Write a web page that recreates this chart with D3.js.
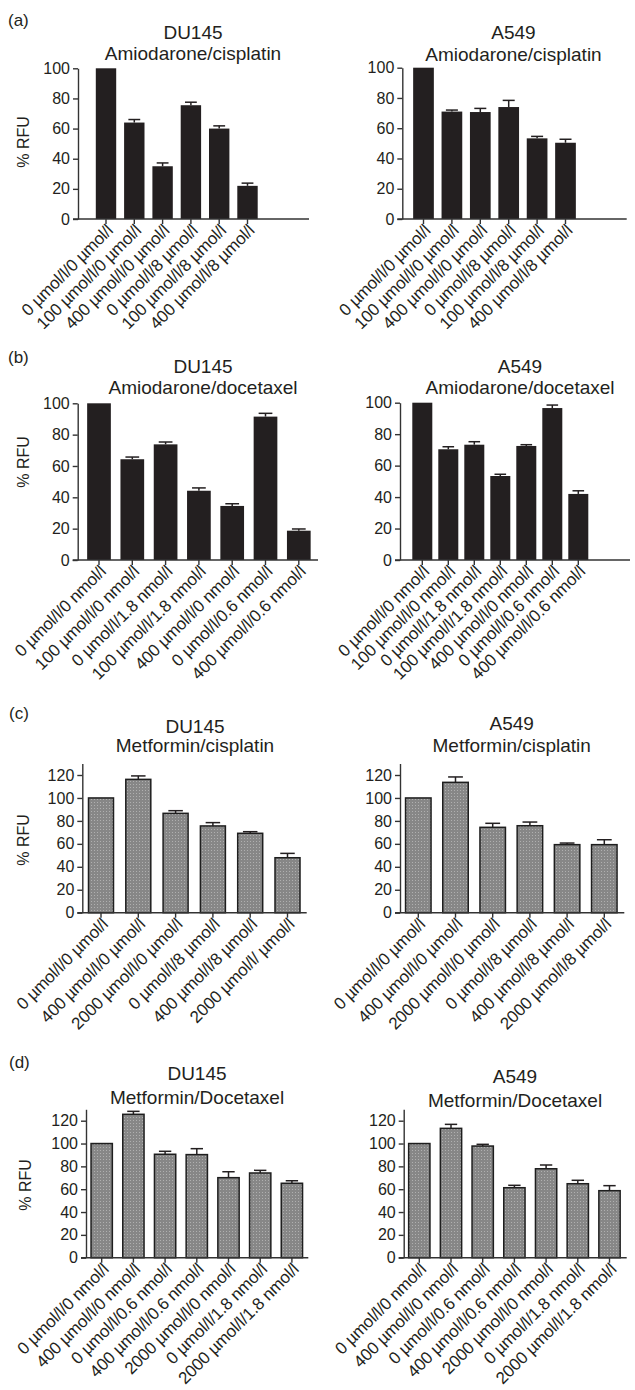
<!DOCTYPE html>
<html>
<head>
<meta charset="utf-8">
<script src="https://cdn.jsdelivr.net/npm/d3@7"></script>
<style>
html,body{margin:0;padding:0;background:#fff;}
svg{display:block;font-family:"Liberation Sans",Arial,Helvetica,sans-serif;}
</style>
</head>
<body>
<svg id="chart" width="635" height="1390"></svg>
<script>
// ---------- DATA ----------
const labelsA = ["0 µmol/l/0 µmol/l","100 µmol/l/0 µmol/l","400 µmol/l/0 µmol/l","0 µmol/l/8 µmol/l","100 µmol/l/8 µmol/l","400 µmol/l/8 µmol/l"];
const du145A = [100, 64, 35, 75.5, 60, 22];
const du145AErr = [0, 2, 2.2, 2, 1.8, 1.8];
const a549A = [100, 71, 70.7, 74, 53.3, 50.4];
const a549AErr = [0, 1, 2.4, 4.4, 1.3, 2.3];

const labelsB = ["0 µmol/l/0 nmol/l","100 µmol/l/0 nmol/l","0 µmol/l/1.8 nmol/l","100 µmol/l/1.8 nmol/l","400 µmol/l/0 nmol/l","0 µmol/l/0.6 nmol/l","400 µmol/l/0.6 nmol/l"];
const du145B = [100, 64.3, 73.8, 44.2, 34.5, 91.5, 18.7];
const du145BErr = [0, 1.4, 1.5, 1.8, 1.4, 2.1, 1.1];
const a549B = [100, 70.4, 73.3, 53.4, 72.5, 96.6, 42];
const a549BErr = [0, 1.6, 1.9, 1.1, 0.8, 1.9, 2];

const labelsCdu = ["0 µmol/l/0 µmol/l","400 µmol/l/0 µmol/l","2000 µmol/l/0 µmol/l","0 µmol/l/8 µmol/l","400 µmol/l/8 µmol/l","2000 µmol/l/ µmol/l"];
const labelsCa = ["0 µmol/l/0 µmol/l","400 µmol/l/0 µmol/l","2000 µmol/l/0 µmol/l","0 µmol/l/8 µmol/l","400 µmol/l/8 µmol/l","2000 µmol/l/8 µmol/l"];
const du145C = [100, 116.2, 86.6, 75.6, 69.2, 47.9];
const du145CErr = [0, 3, 2.3, 2.9, 1.4, 3.8];
const a549C = [100, 113.6, 74.4, 75.8, 59.3, 59.3];
const a549CErr = [0, 4.7, 3.5, 3.2, 1.4, 4.3];

const labelsD = ["0 µmol/l/0 nmol/l","400 µmol/l/0 nmol/l","0 µmol/l/0.6 nmol/l","400 µmol/l/0.6 nmol/l","2000 µmol/l/0 nmol/l","0 µmol/l/1.8 nmol/l","2000 µmol/l/1.8 nmol/l"];
const du145D = [100, 125.6, 90.6, 90.3, 70.1, 74.2, 65.2];
const du145DErr = [0, 2.6, 2.6, 5.2, 5.2, 2.3, 2.2];
const a549D = [100, 113.3, 97.8, 61.3, 77.9, 64.8, 58.7];
const a549DErr = [0, 3.5, 1.5, 2.1, 3.3, 3, 4.4];

const ticksAB = [0, 20, 40, 60, 80, 100];
const ticksCD = [0, 20, 40, 60, 80, 100, 120];

const panelLetters = ["(a)", "(b)", "(c)", "(d)"];
const cellLines = ["DU145", "A549"];
const treatments = ["Amiodarone/cisplatin", "Amiodarone/docetaxel", "Metformin/cisplatin", "Metformin/Docetaxel"];

// ---------- LAYOUT ----------
const INK = "#231f20";
const AX = "#333";
const svg = d3.select("#chart");
const defs = svg.append("defs");
const pat = defs.append("pattern").attr("id","stip").attr("width",3).attr("height",3).attr("patternUnits","userSpaceOnUse");
pat.append("rect").attr("width",3).attr("height",3).attr("fill","#878787");
pat.append("rect").attr("x",1).attr("y",1).attr("width",1).attr("height",1).attr("fill","#b0b0b0");

const charts = [
  {panel:0, cell:0, labels:labelsA, vals:du145A, errs:du145AErr, ticks:ticksAB, yMax:100,
   x0:78, y0:219, yRef:68.3, refVal:100, xEnd:309, first:106, step:28.3, barW:20.4,
   tx:193, t1:38.5, t2:60, ylx:23, yly:142, dark:true},
  {panel:0, cell:1, labels:labelsA, vals:a549A, errs:a549AErr, ticks:ticksAB, yMax:100,
   x0:402.3, y0:219, yRef:67.7, refVal:100, xEnd:626.7, first:423.5, step:28.4, barW:20.7,
   tx:513.5, t1:39, t2:60.7, dark:true},
  {panel:1, cell:0, labels:labelsB, vals:du145B, errs:du145BErr, ticks:ticksAB, yMax:100,
   x0:77.7, y0:560, yRef:403.3, refVal:100, xEnd:318, first:99, step:33.3, barW:23.7,
   tx:203, t1:373, t2:393.5, ylx:23, yly:462, dark:true},
  {panel:1, cell:1, labels:labelsB, vals:a549B, errs:a549BErr, ticks:ticksAB, yMax:100,
   x0:400, y0:560, yRef:402.7, refVal:100, xEnd:630, first:422.3, step:26, barW:20,
   tx:520, t1:372.7, t2:393.5, dark:true},
  {panel:2, cell:0, labels:labelsCdu, vals:du145C, errs:du145CErr, ticks:ticksCD, yMax:130,
   x0:82.3, y0:912.7, yRef:775, refVal:120, xEnd:306.7, first:101, step:37.3, barW:25,
   tx:195, t1:732.5, t2:752, ylx:23, yly:840, dark:false},
  {panel:2, cell:1, labels:labelsCa, vals:a549C, errs:a549CErr, ticks:ticksCD, yMax:130,
   x0:400, y0:912.7, yRef:775, refVal:120, xEnd:624.3, first:418.3, step:37.2, barW:25.5,
   tx:511.7, t1:730, t2:751.5, dark:false},
  {panel:3, cell:0, labels:labelsD, vals:du145D, errs:du145DErr, ticks:ticksCD, yMax:130,
   x0:86, y0:1257.7, yRef:1120.7, refVal:120, xEnd:308.3, first:101.7, step:31.7, barW:21.3,
   tx:197, t1:1080, t2:1104, ylx:25, yly:1185, dark:false},
  {panel:3, cell:1, labels:labelsD, vals:a549D, errs:a549DErr, ticks:ticksCD, yMax:130,
   x0:403.7, y0:1257.7, yRef:1120.7, refVal:120, xEnd:626.7, first:419.3, step:31.7, barW:21.3,
   tx:515, t1:1083, t2:1106.5, dark:false}
];

const letterPos = [[8,26],[8,363],[9,719],[9,1068]];
panelLetters.forEach((t,i)=>{
  svg.append("text").attr("x",letterPos[i][0]).attr("y",letterPos[i][1])
    .attr("font-size",17).attr("fill",INK).text(t);
});

charts.forEach(c=>{
  const g = svg.append("g");
  const n = c.labels.length;
  const p = 1 - c.barW / c.step;
  const x = d3.scaleBand().domain(c.labels)
    .range([c.first - c.step/2, c.first - c.step/2 + c.step*n])
    .paddingInner(p).paddingOuter(p/2);
  const pxPerUnit = (c.y0 - c.yRef) / c.refVal;
  const y = d3.scaleLinear().domain([0, c.yMax]).range([c.y0, c.y0 - c.yMax*pxPerUnit]);

  // titles
  g.append("text").attr("x",c.tx).attr("y",c.t1).attr("text-anchor","middle")
    .attr("font-size",19).attr("fill",INK).text(cellLines[c.cell]);
  g.append("text").attr("x",c.tx).attr("y",c.t2).attr("text-anchor","middle")
    .attr("font-size",19).attr("fill",INK).text(treatments[c.panel]);

  // y label
  if (c.ylx !== undefined) {
    g.append("text").attr("transform",`translate(${c.ylx+6},${c.yly}) rotate(-90)`)
      .attr("text-anchor","middle").attr("font-size",16).attr("fill",INK).text("% RFU");
  }

  // bars
  const rows = c.labels.map((l,i)=>({l, v:c.vals[i], e:c.errs[i]}));
  g.selectAll("rect.bar").data(rows).enter().append("rect")
    .attr("class","bar")
    .attr("x",d=>x(d.l)).attr("width",x.bandwidth())
    .attr("y",d=>y(d.v)).attr("height",d=>y(0)-y(d.v))
    .attr("fill", c.dark ? INK : "url(#stip)")
    .attr("stroke", c.dark ? "none" : "#1e1e1e")
    .attr("stroke-width", c.dark ? 0 : 1.5);

  // error bars (upper only)
  const cap = x.bandwidth()*0.58;
  const eb = g.selectAll("g.err").data(rows.filter(d=>d.e>0)).enter().append("g")
    .attr("stroke", INK).attr("stroke-width",1.5);
  eb.append("line")
    .attr("x1",d=>x(d.l)+x.bandwidth()/2).attr("x2",d=>x(d.l)+x.bandwidth()/2)
    .attr("y1",d=>y(d.v)).attr("y2",d=>y(d.v+d.e));
  eb.append("line")
    .attr("x1",d=>x(d.l)+x.bandwidth()/2-cap/2).attr("x2",d=>x(d.l)+x.bandwidth()/2+cap/2)
    .attr("y1",d=>y(d.v+d.e)).attr("y2",d=>y(d.v+d.e));

  // y axis
  const ya = g.append("g").attr("transform",`translate(${c.x0},0)`)
    .call(d3.axisLeft(y).tickValues(c.ticks).tickSize(5).tickSizeOuter(0).tickPadding(3));
  ya.select(".domain").attr("stroke",AX).attr("stroke-width",1.4);
  ya.selectAll(".tick line").attr("stroke",AX).attr("stroke-width",1.4);
  ya.selectAll(".tick text").attr("font-size",16).attr("fill",INK)
    .attr("font-family","'Liberation Sans',Arial,sans-serif");

  // x axis
  const xa = g.append("g").attr("transform",`translate(0,${c.y0})`)
    .call(d3.axisBottom(x).tickSize(5).tickSizeOuter(0));
  xa.select(".domain").remove();
  xa.selectAll(".tick line").attr("stroke",AX).attr("stroke-width",1.4);
  xa.selectAll(".tick text")
    .attr("font-size",17).attr("fill",INK)
    .attr("font-family","'Liberation Sans',Arial,sans-serif")
    .attr("letter-spacing","-0.2")
    .attr("text-anchor","end")
    .attr("y",0).attr("dy",0)
    .attr("transform","translate(8,12.5) rotate(-45)");
  g.append("line").attr("x1",c.x0-5).attr("x2",c.xEnd)
    .attr("y1",c.y0).attr("y2",c.y0).attr("stroke",AX).attr("stroke-width",1.4);
});
</script>
</body>
</html>
